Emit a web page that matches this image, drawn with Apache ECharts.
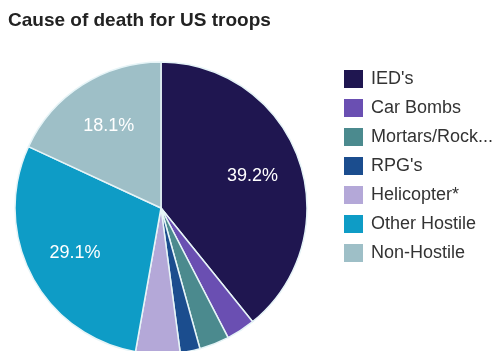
<!DOCTYPE html>
<html lang="en">
<head>
    <meta charset="UTF-8">
    <title>Cause of death for US troops</title>
    <script src="https://cdn.jsdelivr.net/npm/echarts@6.0.0/dist/echarts.min.js"></script>
    <style>
        html, body { margin: 0; padding: 0; background: #fff; }
        #chart { width: 500px; height: 351px; }
    </style>
</head>
<body>
    <div id="chart"></div>
    <script>
        // data (percent)
        const causes = ["IED's", 'Car Bombs', 'Mortars/Rockets', "RPG's", 'Helicopter*', 'Other Hostile', 'Non-Hostile'];
        const shares = [39.2, 3.2, 3.3, 2.2, 4.9, 29.1, 18.1];
        const colors = ['#1f1650', '#6a4fb2', '#4b8a8e', '#1b4d8e', '#b4a8d8', '#0e9cc6', '#9ebfc7'];
        // only the large slices carry a label
        const labelled = ["IED's", 'Other Hostile', 'Non-Hostile'];

        const chart = echarts.init(document.getElementById('chart'));

        const pieData = causes.map((name, i) => ({
            name: name,
            value: shares[i],
            itemStyle: { color: colors[i] }
        }));

        const option = {
            backgroundColor: '#ffffff',
            animation: false,
            title: {
                text: 'Cause of death for US troops',
                left: 8,
                top: 11,
                padding: 0,
                textStyle: {
                    fontFamily: 'Liberation Sans, Arial, sans-serif',
                    fontSize: 19,
                    fontWeight: 'bold',
                    color: '#222'
                }
            },
            legend: {
                orient: 'vertical',
                left: 344,
                top: 70,
                padding: 0,
                icon: 'rect',
                itemWidth: 19,
                itemHeight: 18,
                itemGap: 11,
                itemStyle: { borderWidth: 0 },
                data: causes,
                formatter: function (name) {
                    return name.length > 14 ? name.slice(0, 12) + '...' : name;
                },
                textStyle: {
                    fontFamily: 'Liberation Sans, Arial, sans-serif',
                    fontSize: 18,
                    color: '#333',
                    padding: [0, 0, 0, 3]
                }
            },
            series: [
                {
                    type: 'pie',
                    center: [161, 208],
                    radius: [0, 146],
                    startAngle: 90,
                    clockwise: true,
                    label: { show: false },
                    labelLine: { show: false },
                    itemStyle: { borderColor: '#e6f4f7', borderWidth: 1.5 },
                    data: pieData
                },
                {
                    // transparent ring used to place the percentage labels
                    type: 'pie',
                    center: [161, 208],
                    radius: [42, 146],
                    startAngle: 90,
                    clockwise: true,
                    silent: true,
                    legendHoverLink: false,
                    labelLine: { show: false },
                    itemStyle: { color: 'rgba(0,0,0,0)' },
                    label: {
                        show: true,
                        position: 'inside',
                        fontFamily: 'Liberation Sans, Arial, sans-serif',
                        fontSize: 18,
                        color: '#ffffff',
                        formatter: function (p) {
                            return labelled.indexOf(p.name) >= 0 ? p.value.toFixed(1) + '%' : '';
                        }
                    },
                    data: causes.map((name, i) => ({ name: name, value: shares[i] }))
                }
            ]
        };

        chart.setOption(option);
    </script>
</body>
</html>
